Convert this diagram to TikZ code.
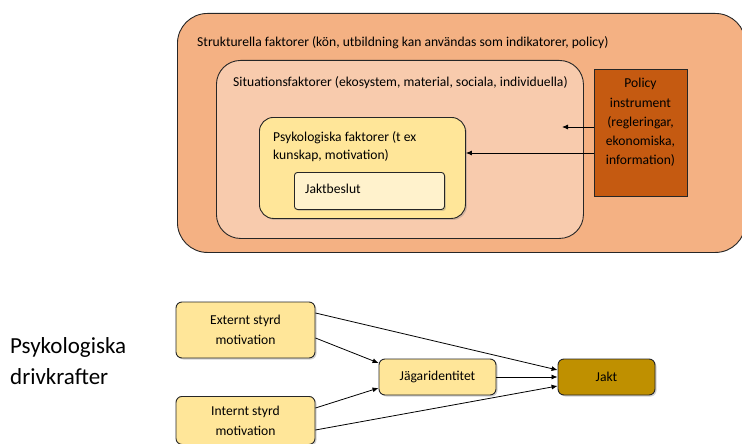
\documentclass[tikz,border=0pt]{standalone}
\usepackage{fontspec}
\setmainfont{Carlito}
\usetikzlibrary{arrows.meta,shadows}
\definecolor{outerC}{HTML}{F4B183}
\definecolor{sitC}{HTML}{F8CBAD}
\definecolor{psyC}{HTML}{FFE699}
\definecolor{beslC}{HTML}{FFF2CC}
\definecolor{polC}{HTML}{C55A11}
\definecolor{jaktC}{HTML}{BF9000}
\definecolor{edgeC}{HTML}{262626}
\tikzset{
  box/.style={draw=edgeC, line width=0.9pt, inner sep=0pt, anchor=north west},
  lbl/.style={anchor=west, inner sep=0pt, font=\fontsize{13.6}{16}\selectfont},
  flowbox/.style={draw=edgeC, line width=0.9pt, rounded corners=6pt, fill=psyC, align=center,
     font=\fontsize{13.6}{20}\selectfont, inner sep=0pt, drop shadow={shadow xshift=1.5pt, shadow yshift=-1.5pt, opacity=0.35}},
  arr/.style={-{Latex[length=6pt,width=5pt]}, line width=0.8pt, black},
}
\begin{document}
\begin{tikzpicture}[x=1pt,y=-1pt]
\useasboundingbox (0,0) rectangle (742,444);
% outer
\node[box, fill=outerC, rounded corners=30pt, minimum width=568pt, minimum height=239pt] (outer) at (177,13) {};
\node[lbl] (outerT) at (197,43) {Strukturella faktorer (kön, utbildning kan användas som indikatorer, policy)};
% situation
\node[box, fill=sitC, rounded corners=24pt, minimum width=367pt, minimum height=178pt] (sit) at (216,60) {};
\node[lbl] (sitT) at (233,83) {Situationsfaktorer (ekosystem, material, sociala, individuella)};
% psych
\node[box, fill=psyC, rounded corners=14pt, minimum width=206pt, minimum height=101pt,
  drop shadow={shadow xshift=1.5pt, shadow yshift=-1.5pt, opacity=0.35}] (psy) at (259,117) {};
\node[lbl, align=left, font=\fontsize{13.6}{18}\selectfont] (psyT) at (273,147) {Psykologiska faktorer (t ex\\kunskap, motivation)};
% jaktbeslut
\node[box, fill=beslC, rounded corners=3pt, minimum width=150pt, minimum height=37pt,
  drop shadow={shadow xshift=1.5pt, shadow yshift=-1.5pt, opacity=0.35}] (besl) at (294,172) {};
\node[lbl] (beslT) at (305,189) {Jaktbeslut};
% policy
\node[box, fill=polC, minimum width=93pt, minimum height=127pt] (pol) at (594,69) {};
\node[align=center, inner sep=0pt, font=\fontsize{13.6}{19.2}\selectfont, anchor=center] (polT) at (640.5,122.5) {Policy\\instrument\\(regleringar,\\ekonomiska,\\information)};
\coordinate (sitTarget) at (562,127);
\draw[arr] (pol.west |- sitTarget) -- (sitTarget);
\draw[arr] (pol.west |- 0,153) -- (psy.east |- 0,153);
% bottom
\node[anchor=west, align=left, inner sep=0pt, font=\fontsize{23}{31}\selectfont] (drive) at (10,361.5) {Psykologiska\\drivkrafter};
\node[flowbox, minimum width=139pt, minimum height=56pt] (ext) at (245.5,330) {Externt styrd\\motivation};
\node[flowbox, minimum width=139pt, minimum height=48pt, anchor=north] (int) at (245.5,396) {Internt styrd\\motivation};
\node[flowbox, minimum width=117pt, minimum height=36pt] (jag) at (437.5,377) {Jägaridentitet};
\node[flowbox, fill=jaktC, minimum width=97pt, minimum height=36pt] (jakt) at (606.5,377) {Jakt};
\draw[arr] (ext.east |- 0,313) -- (jakt.west |- 0,370);
\draw[arr] (ext.east |- 0,338) -- (jag.west |- 0,363);
\draw[arr] (jag.east) -- (jakt.west);
\draw[arr] (int.east |- 0,408) -- (jag.west |- 0,388);
\draw[arr] (int.east |- 0,430) -- (jakt.west |- 0,386);
\end{tikzpicture}
\end{document}
